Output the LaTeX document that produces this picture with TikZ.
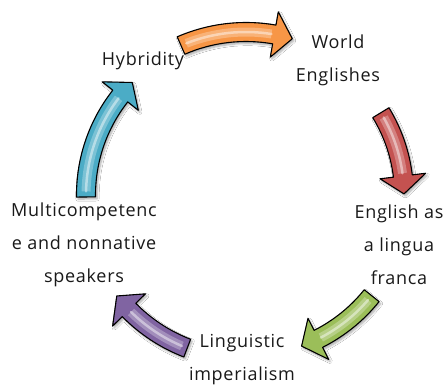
\documentclass[tikz,border=0pt]{standalone}
\usepackage{fontspec}
\setmainfont{Open Sans}[LetterSpace=4]
\usetikzlibrary{shadows.blur}
\definecolor{txt}{RGB}{25,25,25}
\definecolor{corange}{RGB}{247,150,70}
\definecolor{cred}{RGB}{196,82,80}
\definecolor{cgreen}{RGB}{155,190,89}
\definecolor{cpurple}{RGB}{128,100,162}
\definecolor{cblue}{RGB}{75,172,198}
\newcommand\cyclearrow[4]{%
  \pgfmathsetmacro\aro{#4+9.5}%
  \pgfmathsetmacro\ari{#4-9.5}%
  \pgfmathsetmacro\arb{#4+23}%
  \pgfmathsetmacro\arc{#4-23}%
  \pgfmathsetmacro\atip{#3-6.5}%
  \pgfmathsetmacro\hs{#2-2}%
  \pgfmathsetmacro\he{#3+1}%
  \path[arrowbody, fill=#1] (#2:\aro) arc[start angle=#2, end angle=#3, radius=\aro]
    -- (#3:\arb) -- (\atip:#4) -- (#3:\arc) -- (#3:\ari)
    arc[start angle=#3, end angle=#2, radius=\ari] -- cycle;
  \draw[#1!55!white, opacity=0.6, line width=9pt] (\hs:#4) arc[start angle=\hs, end angle=\he, radius=#4];
  \draw[white, opacity=0.45, line width=2.5pt, line cap=round] (\hs:#4) arc[start angle=\hs, end angle=\he, radius=#4];
  \draw[line width=1.1pt, line join=round, black] (#2:\aro) arc[start angle=#2, end angle=#3, radius=\aro]
    -- (#3:\arb) -- (\atip:#4) -- (#3:\arc) -- (#3:\ari)
    arc[start angle=#3, end angle=#2, radius=\ari] -- cycle;
}
\begin{document}
\begin{tikzpicture}[x=1pt,y=1pt,
  arrowbody/.style={blur shadow={shadow xshift=1.5pt, shadow yshift=-2pt, shadow blur steps=6, shadow opacity=35}},
  lbl/.style={font=\fontsize{18}{33}\selectfont, text=txt, align=center, inner sep=0pt}]
\useasboundingbox (0,0) rectangle (443,-384);
\fill[white] (0,0) rectangle (443,-384);
\begin{scope}[shift={(246,-195)}]
  \cyclearrow{corange}{113.5}{80}{163}
  \cyclearrow{cred}{31.4}{6.9}{158}
  \cyclearrow{cgreen}{-38.7}{-63.3}{161}
  \cyclearrow{cpurple}{-111}{-135.5}{164}
  \cyclearrow{cblue}{180.7}{141.8}{160}
\end{scope}
\node[lbl] (hyb) at (143,-61) {Hybridity};
\node[lbl] (we) at (338,-60) {World\\Englishes};
\node[lbl] (elf) at (399,-245) {English as\\a lingua\\franca};
\node[lbl] (li) at (242,-360) {Linguistic\\imperialism};
\node[lbl] (mc) at (84,-245) {Multicompetenc\\e and nonnative\\speakers};
\end{tikzpicture}
\end{document}
